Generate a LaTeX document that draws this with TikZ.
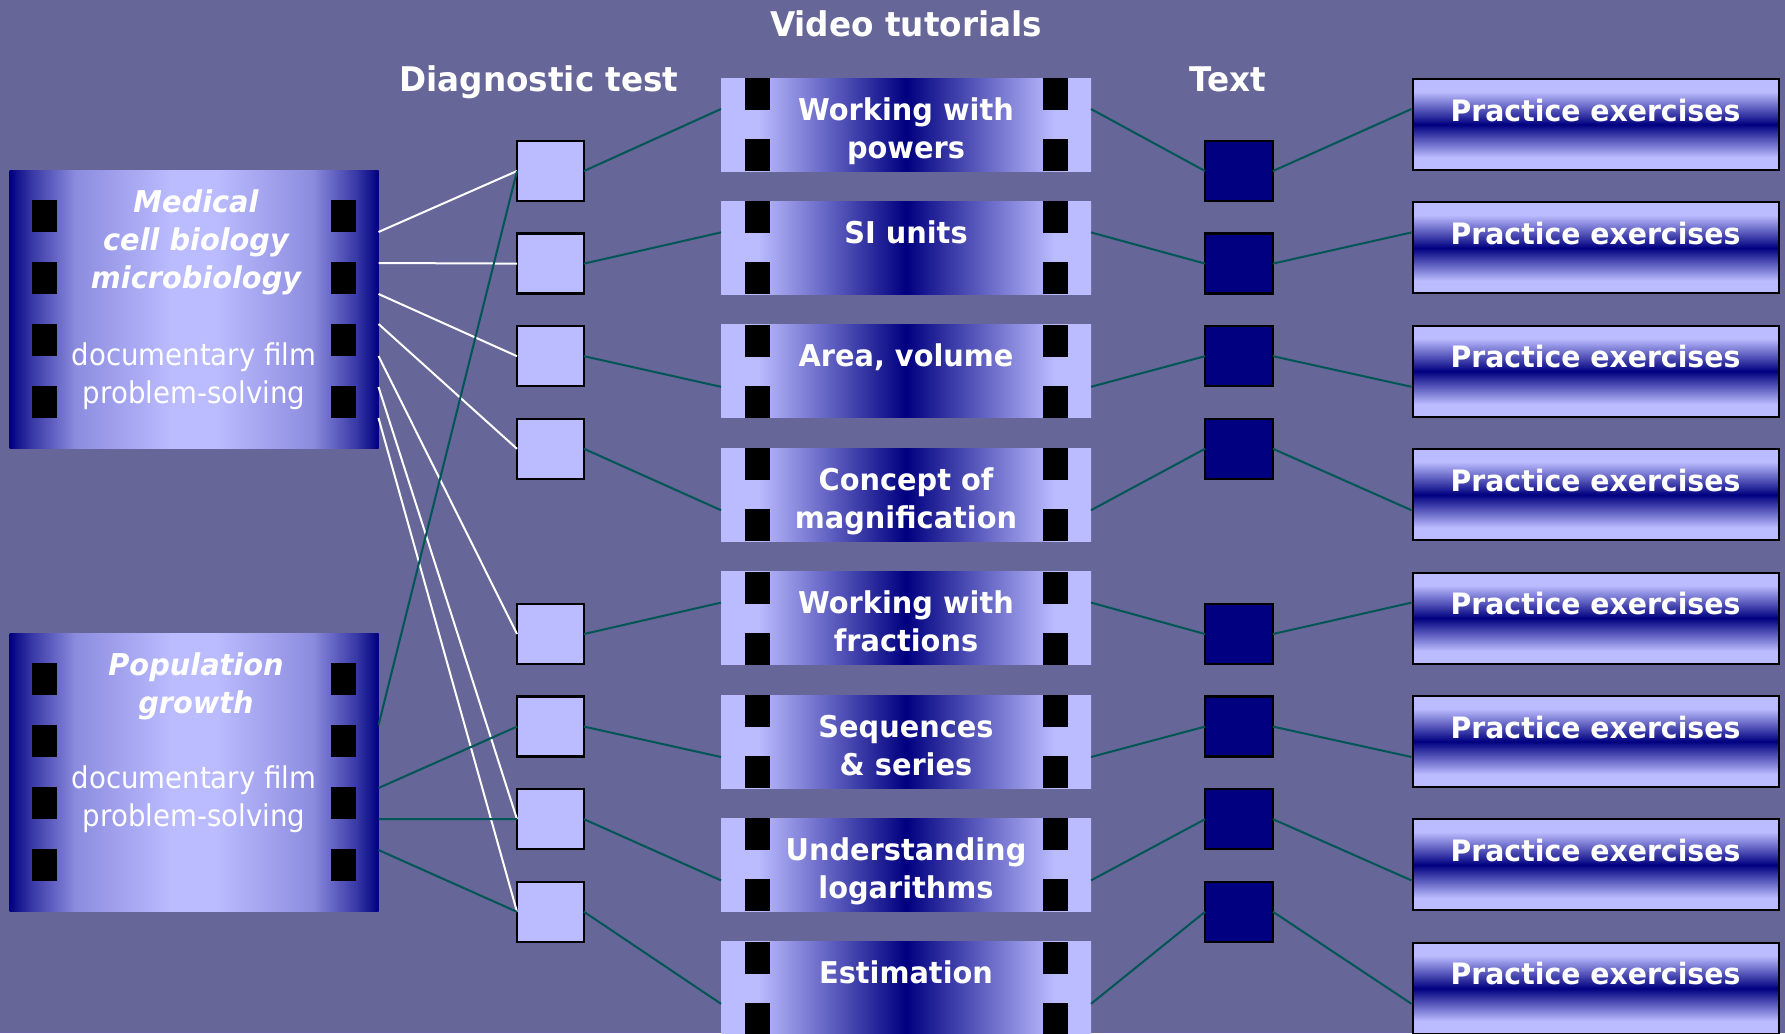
\documentclass[tikz,border=0pt]{standalone}
\usepackage{fontspec}
\setmainfont{DejaVu Sans}[FakeStretch=0.92]
\newfontfamily\widesans{DejaVu Sans}[FakeStretch=0.96]
\usetikzlibrary{calc}

\definecolor{bgc}{RGB}{102,102,153}
\definecolor{lav}{RGB}{187,187,255}
\definecolor{navyc}{RGB}{0,0,128}
\definecolor{tealc}{RGB}{0,85,85}
\colorlet{filmA}{lav!30!navyc}
\colorlet{filmB}{lav!75!navyc}

% film strip: dark edges, light centre
\pgfdeclarehorizontalshading{filmshade}{100bp}{color(0bp)=(navyc); color(25bp)=(navyc);
  color(28bp)=(filmA); color(34bp)=(filmB); color(47bp)=(lav); color(53bp)=(lav);
  color(66bp)=(filmB); color(72bp)=(filmA); color(75bp)=(navyc); color(100bp)=(navyc)}
% tutorial strip: light edges, dark centre
\pgfdeclarehorizontalshading{tutshade}{100bp}{color(0bp)=(lav); color(25bp)=(lav);
  color(30bp)=(lav); color(50bp)=(navyc); color(70bp)=(lav); color(75bp)=(lav); color(100bp)=(lav)}
% exercise panel: dark band across the middle
\pgfdeclareverticalshading{pracshade}{100bp}{color(0bp)=(lav); color(25bp)=(lav);
  color(32bp)=(lav); color(50bp)=(navyc); color(68bp)=(lav); color(75bp)=(lav); color(100bp)=(lav)}

\begin{document}
\begin{tikzpicture}[x=1pt,y=-1pt,
  film/.style={shade, shading=filmshade, draw=none, inner sep=0pt, outer sep=0pt,
    minimum width=369pt, minimum height=278pt, anchor=north west},
  tutbox/.style={shade, shading=tutshade, draw=none, inner sep=0pt, outer sep=0pt,
    minimum width=370pt, minimum height=93pt, anchor=north west},
  pracbox/.style={shade, shading=pracshade, draw=black, line width=2pt, inner sep=0pt,
    outer sep=0pt, minimum width=366pt, minimum height=91pt, anchor=north west},
  diagbox/.style={fill=lav, draw=black, line width=2.5pt, inner sep=0pt, outer sep=0pt,
    minimum width=67pt, minimum height=60pt},
  textbox/.style={fill=navyc, draw=black, line width=2.5pt, inner sep=0pt, outer sep=0pt,
    minimum width=68pt, minimum height=60pt},
  hole/.style={fill=black},
  wline/.style={draw=white, line width=2pt},
  tline/.style={draw=tealc, line width=2pt},
  headtxt/.style={text=white, font=\widesans\bfseries\fontsize{34}{40}\selectfont, anchor=base, inner sep=0pt},
  boldtxt/.style={text=white, font=\widesans\bfseries\fontsize{30}{36}\selectfont, anchor=base, inner sep=0pt},
  practxt/.style={text=white, font=\widesans\bfseries\fontsize{29.5}{36}\selectfont, anchor=base, inner sep=0pt},
  itxt/.style={text=white, font=\widesans\bfseries\itshape\fontsize{30}{36}\selectfont, anchor=base, inner sep=0pt},
  regtxt/.style={text=white, font=\fontsize{30}{36}\selectfont, anchor=base, inner sep=0pt},
]
\fill[bgc] (0,0) rectangle (1785,1033);
\useasboundingbox (0,0) rectangle (1785,1033);

% column headings
\node[headtxt] (hvid) at (906,37) {Video tutorials};
\node[headtxt] (hdiag) at (539,92) {Diagnostic test};
\node[headtxt] (htext) at (1228,92) {Text};

% documentary films
\node[film] (med) at (9.5,170) {};
\node[film] (pop) at (9.5,633) {};
\foreach \f in {med,pop}
  \foreach \o in {30,92,154,216} {
    \fill[hole] ($(\f.north west)+(22.5,\o)$) rectangle ++(25,32);
    \fill[hole] ($(\f.north east)+(-47.5,\o)$) rectangle ++(25,32);
  }
\node[itxt] (med1) at ($(med.north)+(2,42)$) {Medical};
\node[itxt] (med2) at ($(med.north)+(2,80)$) {cell biology};
\node[itxt] (med3) at ($(med.north)+(2,118)$) {microbiology};
\node[regtxt] (med4) at ($(med.north)+(0,195)$) {documentary film};
\node[regtxt] (med5) at ($(med.north)+(0,233)$) {problem-solving};
\node[itxt] (pop1) at ($(pop.north)+(2,42)$) {Population};
\node[itxt] (pop2) at ($(pop.north)+(2,80)$) {growth};
\node[regtxt] (pop3) at ($(pop.north)+(0,155)$) {documentary film};
\node[regtxt] (pop4) at ($(pop.north)+(0,193)$) {problem-solving};

% diagnostic tests and texts
\foreach \i/\k in {1/0,2/1,3/2,4/3,5/5,6/6,7/7,8/8} {
  \node[diagbox] (d\i) at (550.5,{171+92.6*\k}) {};
  \node[textbox] (x\i) at (1239,{171+92.6*\k}) {};
}

% video tutorials and exercise panels
\foreach \i in {1,...,8} {
  \node[tutbox] (t\i) at (721,{78+123.4*(\i-1)}) {};
  \fill[hole] ($(t\i.north west)+(24,0)$) rectangle ++(25,32);
  \fill[hole] ($(t\i.south west)+(24,-32)$) rectangle ++(25,32);
  \fill[hole] ($(t\i.north east)+(-48,0)$) rectangle ++(25,32);
  \fill[hole] ($(t\i.south east)+(-48,-32)$) rectangle ++(25,32);
  \node[pracbox] (p\i) at (1412.5,{79+123.4*(\i-1)}) {};
  \node[practxt] (pt\i) at ($(p\i.north)+(0,42)$) {Practice exercises};
}
\node[boldtxt] (t1a) at ($(t1.north)+(0,42)$) {Working with};
\node[boldtxt] (t1b) at ($(t1.north)+(0,80)$) {powers};
\node[boldtxt] (t2a) at ($(t2.north)+(0,42)$) {SI units};
\node[boldtxt] (t3a) at ($(t3.north)+(0,42)$) {Area, volume};
\node[boldtxt] (t4a) at ($(t4.north)+(0,42)$) {Concept of};
\node[boldtxt] (t4b) at ($(t4.north)+(0,80)$) {magnification};
\node[boldtxt] (t5a) at ($(t5.north)+(0,42)$) {Working with};
\node[boldtxt] (t5b) at ($(t5.north)+(0,80)$) {fractions};
\node[boldtxt] (t6a) at ($(t6.north)+(0,42)$) {Sequences};
\node[boldtxt] (t6b) at ($(t6.north)+(0,80)$) {\& series};
\node[boldtxt] (t7a) at ($(t7.north)+(0,42)$) {Understanding};
\node[boldtxt] (t7b) at ($(t7.north)+(0,80)$) {logarithms};
\node[boldtxt] (t8a) at ($(t8.north)+(0,42)$) {Estimation};

% films to diagnostic tests
\foreach \o/\d in {62/1,93/2,124/3,154/4,186/5,217/7,248/8}
  \draw[wline] ($(med.north east)+(0,\o)$) -- (d\d.west);
\foreach \o/\d in {92/1,155/6,186/7,217/8}
  \draw[tline] ($(pop.north east)+(0,\o)$) -- (d\d.west);

% test -> tutorial -> text -> exercises
\foreach \i/\o in {1/31,2/31,3/62,4/62,5/31,6/62,7/62,8/62} {
  \draw[tline] (d\i.east) -- ($(t\i.north west)+(0,\o)$);
  \draw[tline] ($(t\i.north east)+(0,\o)$) -- (x\i.west);
  \draw[tline] (x\i.east) -- ($(p\i.north west)+(-1,\o-1)$);
}
\end{tikzpicture}
\end{document}
